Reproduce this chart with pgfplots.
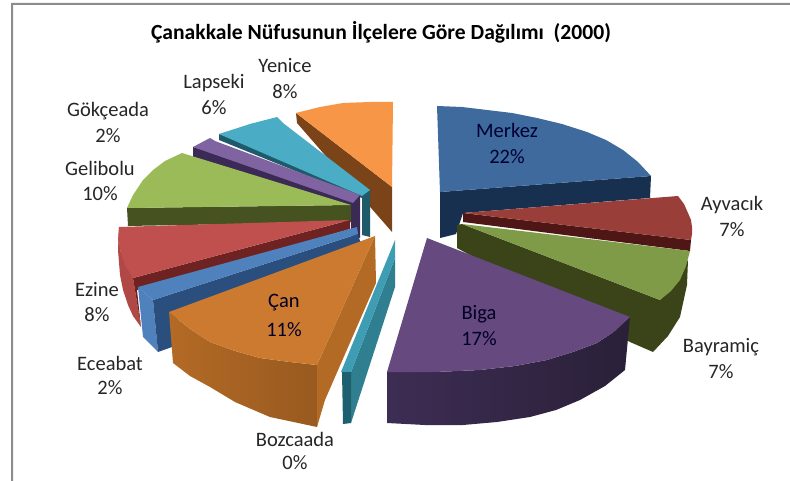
\documentclass[border=0pt]{standalone}
\usepackage{pgfplots}
\pgfplotsset{compat=1.18}
\usepackage{fontspec}
\setmainfont{Carlito}
\definecolor{mT}{HTML}{3E6A9E}\definecolor{mS}{HTML}{18304F}
\definecolor{aT}{HTML}{9A3E3A}\definecolor{aS}{HTML}{4E1614}
\definecolor{bT}{HTML}{7F9B47}\definecolor{bS}{HTML}{3A4418}
\definecolor{gT}{HTML}{66497F}\definecolor{gA}{HTML}{3D2D54}\definecolor{gB}{HTML}{2A2038}
\definecolor{zT}{HTML}{3F9DB3}\definecolor{zS}{HTML}{2F7F90}\definecolor{zD}{HTML}{1F6070}
\definecolor{cT}{HTML}{CC7A30}\definecolor{cS}{HTML}{B36A25}
\definecolor{eT}{HTML}{4F81BD}\definecolor{eS}{HTML}{2A4F7E}
\definecolor{iT}{HTML}{C0504D}\definecolor{iS}{HTML}{6E2322}\definecolor{iA}{HTML}{B04845}
\definecolor{lT}{HTML}{9BBB59}\definecolor{lS}{HTML}{46521F}
\definecolor{kT}{HTML}{8064A2}\definecolor{kS}{HTML}{3A2A55}
\definecolor{pT}{HTML}{4BACC6}\definecolor{pS}{HTML}{1F5A6B}
\definecolor{yT}{HTML}{F79646}\definecolor{yS}{HTML}{7A4318}
\definecolor{frm}{HTML}{8C8C8C}
\tikzset{lab/.style={font=\fontsize{20.5}{22}\selectfont,text=black!85},
  dark/.style={font=\fontsize{20.5}{22}\selectfont,text=black!85!blue}}
\begin{document}
\begin{tikzpicture}
\begin{axis}[scale only axis,width=790pt,height=481pt,xmin=0,xmax=790,ymin=0,ymax=481,y dir=reverse,hide axis,clip=true,
  every axis plot/.append style={draw=none,line width=0pt}]
% background and frame
\addplot[fill=white] coordinates {(0,0)(790,0)(790,481)(0,481)} --cycle;
\addplot[fill=frm] coordinates {(11,3)(790,3)(790,5)(13,5)(13,481)(11,481)} --cycle;
% Yenice
\addplot[fill=yS] coordinates {(296,113)(392,187)(392,232)(297,123)} --cycle;
\addplot[fill=yT] coordinates {(296,113)(320,107)(343,103)(370,102)(393,102)(392,187)} --cycle;
% Lapseki
\addplot[fill=pS] coordinates {(219,134)(370,190)(370,237)(362,235)(362,198)(219,140)} --cycle;
\addplot[fill=pT] coordinates {(219,134)(250,124)(277,117)(283,123)(370,190)(362,196)} --cycle;
% Gokceada
\addplot[fill=kS] coordinates {(193,147)(360,195)(360,238)(351,235)(351,207)(193,157)} --cycle;
\addplot[fill=kT] coordinates {(193,147)(210,138)(215,141)(360,195)(353,203)} --cycle;
% Gelibolu
\addplot[fill=lS] coordinates {(127,208)(351,205)(351,222)(128,226)} --cycle;
\addplot[fill=lT] coordinates {(127,208)(133,195)(143,180)(153,170)(165,161)(182,153)(351,205)} --cycle;
% Ezine
\addplot[fill=iA] coordinates {(119,227)(120,250)(133,278)(141,327)(133,316)(128,305)(123,290)(120,275)(118,250)} --cycle;
\addplot[fill=iS] coordinates {(133,278)(350,220)(350,229)(137,290)(141,327)} --cycle;
\addplot[fill=iT] coordinates {(119,227)(350,220)(133,278)(125,265)(120,250)(118,240)} --cycle;
% Eceabat
\addplot[fill=eT] coordinates {(138,287)(153,300)(158,352)(143,337)} --cycle;
\addplot[fill=eS] coordinates {(153,300)(358,234)(360,241)(361,242)(180,310)(172,347)(158,352)} --cycle;
\addplot[fill=eT] coordinates {(138,287)(357,227)(358,234)(153,300)} --cycle;
% Can
\addplot[shade,left color=cS,right color=cS!85!black] coordinates {(169,312)(190,329)(210,342)(235,351)(260,358)(290,362)(317,365)(317,427)(270,417)(235,402)(210,387)(190,376)(173,363)} --cycle;
\addplot[fill=cS] coordinates {(375,236)(376,283)(325,400)(317,427)(317,365)} --cycle;
\addplot[fill=cT] coordinates {(375,236)(169,312)(190,329)(210,342)(235,351)(260,358)(290,362)(317,365)} --cycle;
% Bozcaada
\addplot[fill=zS] coordinates {(351,372)(395,258)(395,287)(351,423)} --cycle;
\addplot[fill=zT] coordinates {(341,372)(395,240)(395,258)(351,372)} --cycle;
\addplot[fill=zD] coordinates {(342,372)(351,372)(351,423)(343,424)} --cycle;
% Merkez
\addplot[fill=mS] coordinates {(440,192)(651,176)(650,198)(463,213)(456,234)(440,238)} --cycle;
\addplot[fill=mT] coordinates {(437,106)(462,107)(487,110)(512,113)(537,118)(562,124)(587,132)(606,140)(623,150)(638,162)(651,176)(440,192)} --cycle;
% Ayvacik
\addplot[fill=aS] coordinates {(463,213)(691,240)(690,251)(463,222)} --cycle;
\addplot[fill=aT] coordinates {(463,213)(678,196)(684,204)(688,213)(691,220)(692,227)(692,234)(691,240)} --cycle;
% Bayramic
\addplot[fill=bS] coordinates {(457,225)(462,224)(660,300)(688,260)(687,285)(680,317)(668,336)(653,352)(630,342)(457,248)} --cycle;
\addplot[fill=bT] coordinates {(462,224)(690,251)(686,266)(680,280)(671,291)(660,300)} --cycle;
% Biga
\addplot[shade,left color=gA,right color=gB] coordinates {(387,372)(435,372)(480,370)(515,366)(547,360)(573,352)(597,343)(615,331)(630,317)(625,370)(605,386)(580,400)(556,410)(530,417)(497,422)(463,425)(425,425)(387,423)} --cycle;
\addplot[fill=gT] coordinates {(427,238)(630,317)(615,331)(597,343)(573,352)(547,360)(515,366)(480,370)(435,372)(387,372)} --cycle;
% Text
\node[font=\fontsize{21.6}{23}\selectfont\bfseries] at (axis cs:381,32) {Çanakkale Nüfusunun İlçelere Göre Dağılımı\ \ (2000)};
\node[dark,text=black!80!blue] at (axis cs:507,130) {Merkez};
\node[dark,text=black!80!blue] at (axis cs:507,157) {22\%};
\node[lab] at (axis cs:732,205) {Ayvacık};
\node[lab] at (axis cs:732,230) {7\%};
\node[lab] at (axis cs:721,347) {Bayramiç};
\node[lab] at (axis cs:721,372) {7\%};
\node[dark] at (axis cs:479,314) {Biga};
\node[dark] at (axis cs:479,339) {17\%};
\node[lab] at (axis cs:295,439) {Bozcaada};
\node[lab] at (axis cs:295,463) {0\%};
\node[dark] at (axis cs:284,303) {Çan};
\node[dark] at (axis cs:284,330) {11\%};
\node[lab] at (axis cs:110,363) {Eceabat};
\node[lab] at (axis cs:110,388) {2\%};
\node[lab] at (axis cs:97,290) {Ezine};
\node[lab] at (axis cs:97,315) {8\%};
\node[lab] at (axis cs:100,168) {Gelibolu};
\node[lab] at (axis cs:100,194) {10\%};
\node[lab] at (axis cs:108,111) {Gökçeada};
\node[lab] at (axis cs:108,136) {2\%};
\node[lab] at (axis cs:214,83) {Lapseki};
\node[lab] at (axis cs:214,108) {6\%};
\node[lab] at (axis cs:285,66) {Yenice};
\node[lab] at (axis cs:285,92) {8\%};
\end{axis}
\end{tikzpicture}
\end{document}
